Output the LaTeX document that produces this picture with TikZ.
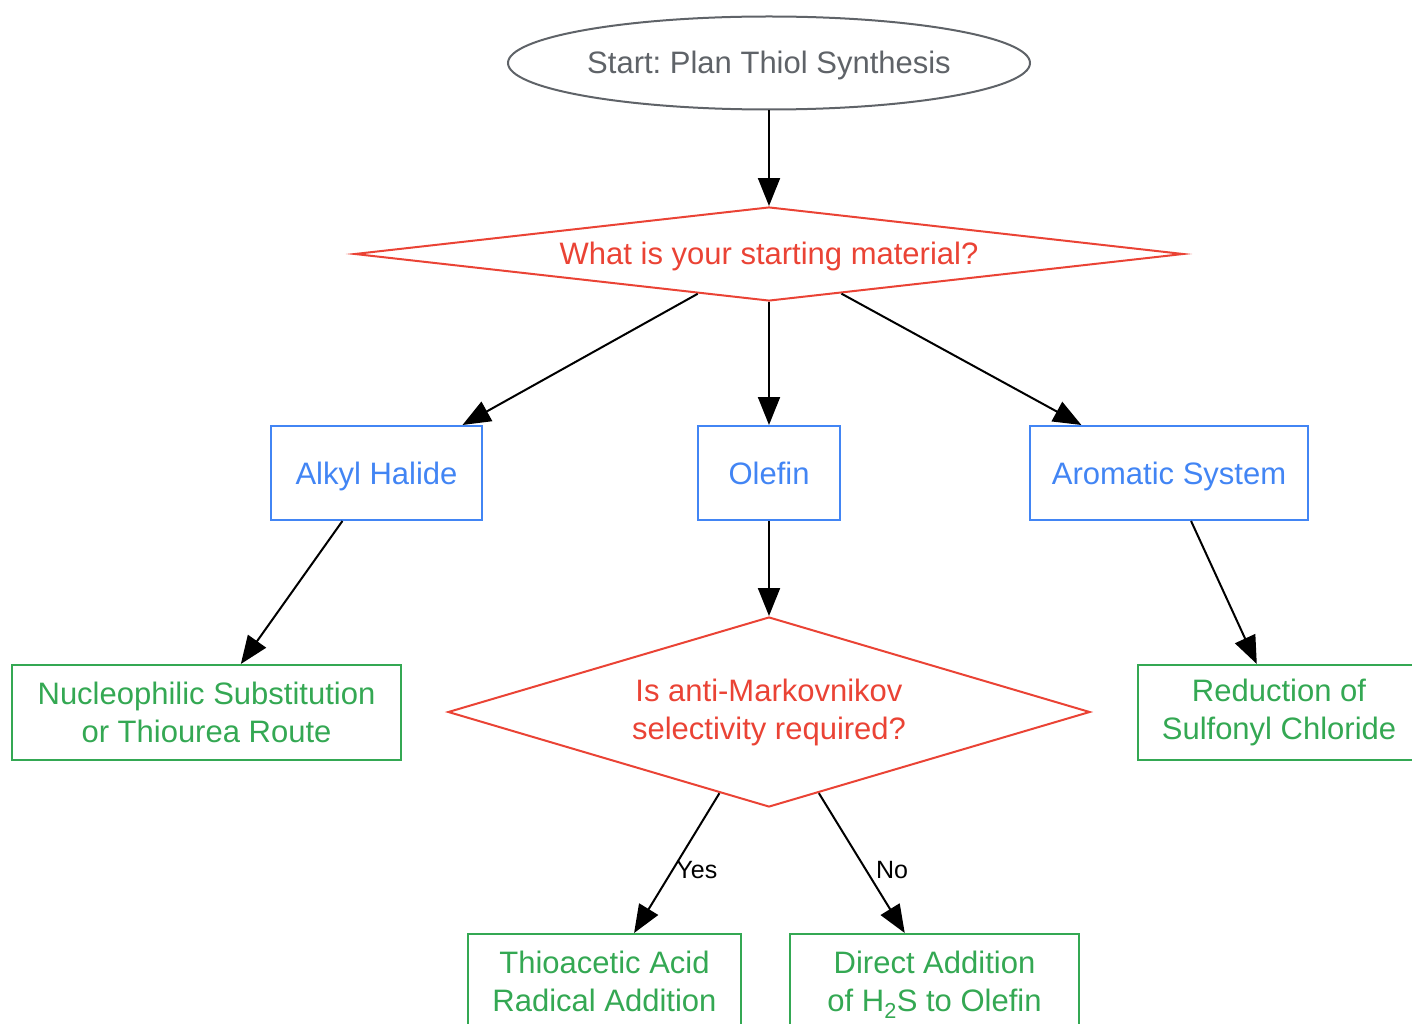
\documentclass[tikz,border=0pt]{standalone}
\usepackage{fontspec}
\setmainfont{Liberation Sans}
\frenchspacing
\usetikzlibrary{shapes.geometric,arrows.meta}
\definecolor{startgray}{HTML}{5F6368}
\definecolor{askred}{HTML}{EA4335}
\definecolor{kindblue}{HTML}{4285F4}
\definecolor{routegreen}{HTML}{34A853}
\tikzset{
  every node/.style={font=\fontsize{31}{38}\selectfont},
  oneline/.style={text height=22pt, text depth=0pt},
  startnode/.style={ellipse, draw=startgray, text=startgray, line width=2pt,
    minimum width=522pt, minimum height=93pt, inner sep=0pt, oneline},
  asknode/.style={diamond, draw=askred, text=askred, line width=2pt,
    inner sep=0pt, align=center},
  kindnode/.style={rectangle, draw=kindblue, text=kindblue, line width=2pt,
    minimum height=94pt, inner sep=0pt, oneline},
  routenode/.style={rectangle, draw=routegreen, text=routegreen, line width=2pt,
    minimum height=95pt, inner sep=0pt, align=center},
  flow/.style={line width=2pt, -{Triangle[length=28pt,width=22pt]}},
  answer/.style={font=\fontsize{25}{29}\selectfont, right, inner sep=3pt}
}
\begin{document}
\begin{tikzpicture}[x=1pt,y=-1pt]
	\useasboundingbox (0,0) rectangle (1412,1024);

	\node[startnode] (start) at (769,63) {Start: Plan Thiol Synthesis};
	\node[asknode, oneline, aspect=8.8, minimum width=829pt, minimum height=94pt] (material) at (769,254) {What is your starting material?};

	\node[kindnode, minimum width=211pt] (alkyl) at (376.5,473) {Alkyl Halide};
	\node[kindnode, minimum width=142pt] (olefin) at (769,473) {Olefin};
	\node[kindnode, minimum width=278pt] (aromatic) at (1169,473) {Aromatic System};

	\node[routenode, minimum width=389pt] (substitution) at (206.5,712.5) {Nucleophilic Substitution\\or Thiourea Route};
	\node[asknode, aspect=3.4, minimum width=642pt, minimum height=190pt] (antimark) at (769,712) {Is anti-Markovnikov\\selectivity required?};
	\node[routenode, minimum width=282pt] (reduction) at (1279,712.5) {Reduction of\\Sulfonyl Chloride};

	\node[routenode, minimum width=273pt] (thioacetic) at (604.5,981.5) {Thioacetic Acid\\Radical Addition};
	\node[routenode, minimum width=289pt] (direct) at (934.5,981.5) {Direct Addition\\of H\smash{\textsubscript{2}}S to Olefin};

	% connectors
	\draw[flow] (start) -- (material);
	\draw[flow] (material) -- (alkyl);
	\draw[flow] (material) -- (olefin);
	\draw[flow] (material) -- (aromatic);
	\draw[flow] (alkyl) -- (substitution);
	\draw[flow] (olefin) -- (antimark);
	\draw[flow] (aromatic) -- (reduction);
	\draw[flow] (antimark) -- node[answer, pos=0.55] {Yes} (thioacetic);
	\draw[flow] (antimark) -- node[answer, pos=0.55, xshift=6pt] {No} (direct);
\end{tikzpicture}
\end{document}
